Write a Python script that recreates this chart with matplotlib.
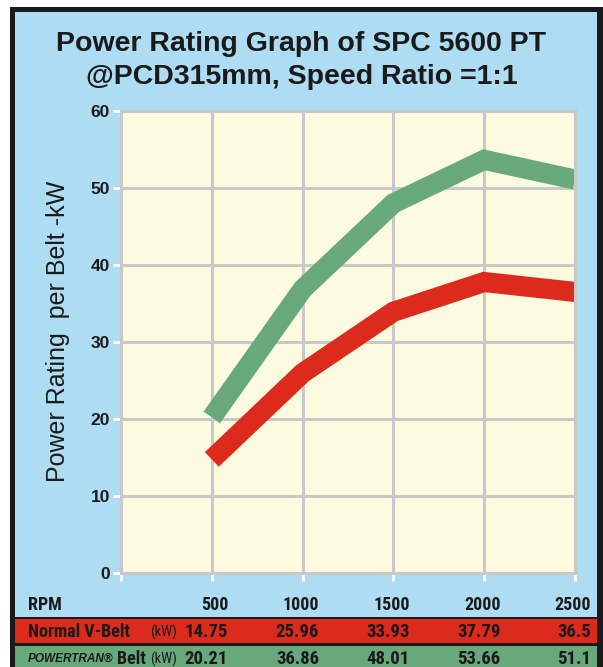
import matplotlib
matplotlib.use('Agg')
import matplotlib.pyplot as plt
from matplotlib.patches import Rectangle
from matplotlib.transforms import blended_transform_factory

rpm = [500, 1000, 1500, 2000, 2500]
normal_kw = [14.75, 25.96, 33.93, 37.79, 36.5]
powertran_kw = [20.21, 36.86, 48.01, 53.66, 51.1]
normal_labels = ['14.75', '25.96', '33.93', '37.79', '36.5']
powertran_labels = ['20.21', '36.86', '48.01', '53.66', '51.1']
yticks = [0, 10, 20, 30, 40, 50, 60]
xticks = [0, 500, 1000, 1500, 2000, 2500]

W, H = 603, 667
blue = '#aedcf2'
yellow = '#fcfadf'
red = '#dc2a1c'
green = '#67a97a'
dark = '#1a1a1a'
narrow = ['Roboto Condensed', 'Archivo Narrow', 'DejaVu Sans']

plt.rcParams['font.family'] = ['Liberation Sans', 'DejaVu Sans']

fig = plt.figure(figsize=(W / 100, H / 100), dpi=100)
fig.patch.set_facecolor('white')

def px_rect(x0, y0, x1, y1, color):
    # rectangle in pixel coords (y measured from top)
    r = Rectangle((x0 / W, 1 - y1 / H), (x1 - x0) / W, (y1 - y0) / H,
                  transform=fig.transFigure, facecolor=color, edgecolor='none', zorder=-10)
    fig.add_artist(r)

px_rect(10, 7, 603, 667, dark)
px_rect(15, 12, 597, 667, blue)
px_rect(15, 617, 597, 619, dark)
px_rect(15, 619, 597, 643, red)
px_rect(15, 643, 597, 646, dark)
px_rect(15, 646, 597, 667, green)

ax = fig.add_axes([121 / W, 1 - 573 / H, (575 - 121) / W, (573 - 111) / H])
ax.set_facecolor(yellow)
ax.set_xlim(0, 2500)
ax.set_ylim(0, 60)
ax.set_xticks(xticks)
ax.set_yticks(yticks)
ax.set_xticklabels([])
ax.grid(True, color='#c8c8c8', linewidth=2.2)
ax.set_axisbelow(True)
for s in ax.spines.values():
    s.set_color('#c8c8c8')
    s.set_linewidth(2.2)
ax.tick_params(axis='both', direction='out', color='white', length=6, width=2)
ax.tick_params(axis='y', labelsize=12.5, pad=2)
for lbl in ax.get_yticklabels():
    lbl.set_fontweight('bold')
    lbl.set_color(dark)

ax.plot(rpm, powertran_kw, color=green, lw=14.5, solid_capstyle='butt', solid_joinstyle='miter')
ax.plot(rpm, normal_kw, color=red, lw=14.5, solid_capstyle='butt', solid_joinstyle='miter')

fig.text(0.5, 1 - 44 / H, 'Power Rating Graph of SPC 5600 PT', ha='center', va='center',
         fontsize=20.5, fontweight='bold', color=dark)
fig.text(0.5, 1 - 77 / H, '@PCD315mm, Speed Ratio =1:1', ha='center', va='center',
         fontsize=20.5, fontweight='bold', color=dark)
fig.text(58 / W, 1 - 331 / H, 'Power Rating  per Belt -kW', rotation=90, ha='center', va='center',
         fontsize=18, color=dark)

# table under the chart
tr = blended_transform_factory(ax.transData, fig.transFigure)
row_y = [1 - 605 / H, 1 - 632 / H, 1 - 659 / H]
fig.text(28 / W, row_y[0], 'RPM', ha='left', va='center', fontsize=13, fontweight='bold',
         family=narrow, color=dark)
fig.text(28 / W, row_y[1], 'Normal V-Belt', ha='left', va='center', fontsize=13,
         fontweight='bold', family=narrow, color=dark)
fig.text(150 / W, row_y[1], '(kW)', ha='left', va='center', fontsize=10.5, family=narrow, color=dark)
fig.text(28 / W, row_y[2], 'POWERTRAN\u00ae', ha='left', va='center', fontsize=8.5,
         fontweight='bold', fontstyle='italic', color=dark)
fig.text(117 / W, row_y[2], 'Belt', ha='left', va='center', fontsize=13,
         fontweight='bold', family=narrow, color=dark)
fig.text(150 / W, row_y[2], '(kW)', ha='left', va='center', fontsize=10.5, family=narrow, color=dark)
for i, r in enumerate(rpm):
    fig.text(r + 90, row_y[0], str(r), transform=tr, ha='right', va='center',
             fontsize=13, fontweight='bold', family=narrow, color=dark)
    fig.text(r + 90, row_y[1], normal_labels[i], transform=tr, ha='right', va='center',
             fontsize=13.5, fontweight='bold', family=narrow, color=dark)
    fig.text(r + 90, row_y[2], powertran_labels[i], transform=tr, ha='right', va='center',
             fontsize=13.5, fontweight='bold', family=narrow, color=dark)

fig.savefig('out.png', dpi=100, facecolor=fig.get_facecolor())
